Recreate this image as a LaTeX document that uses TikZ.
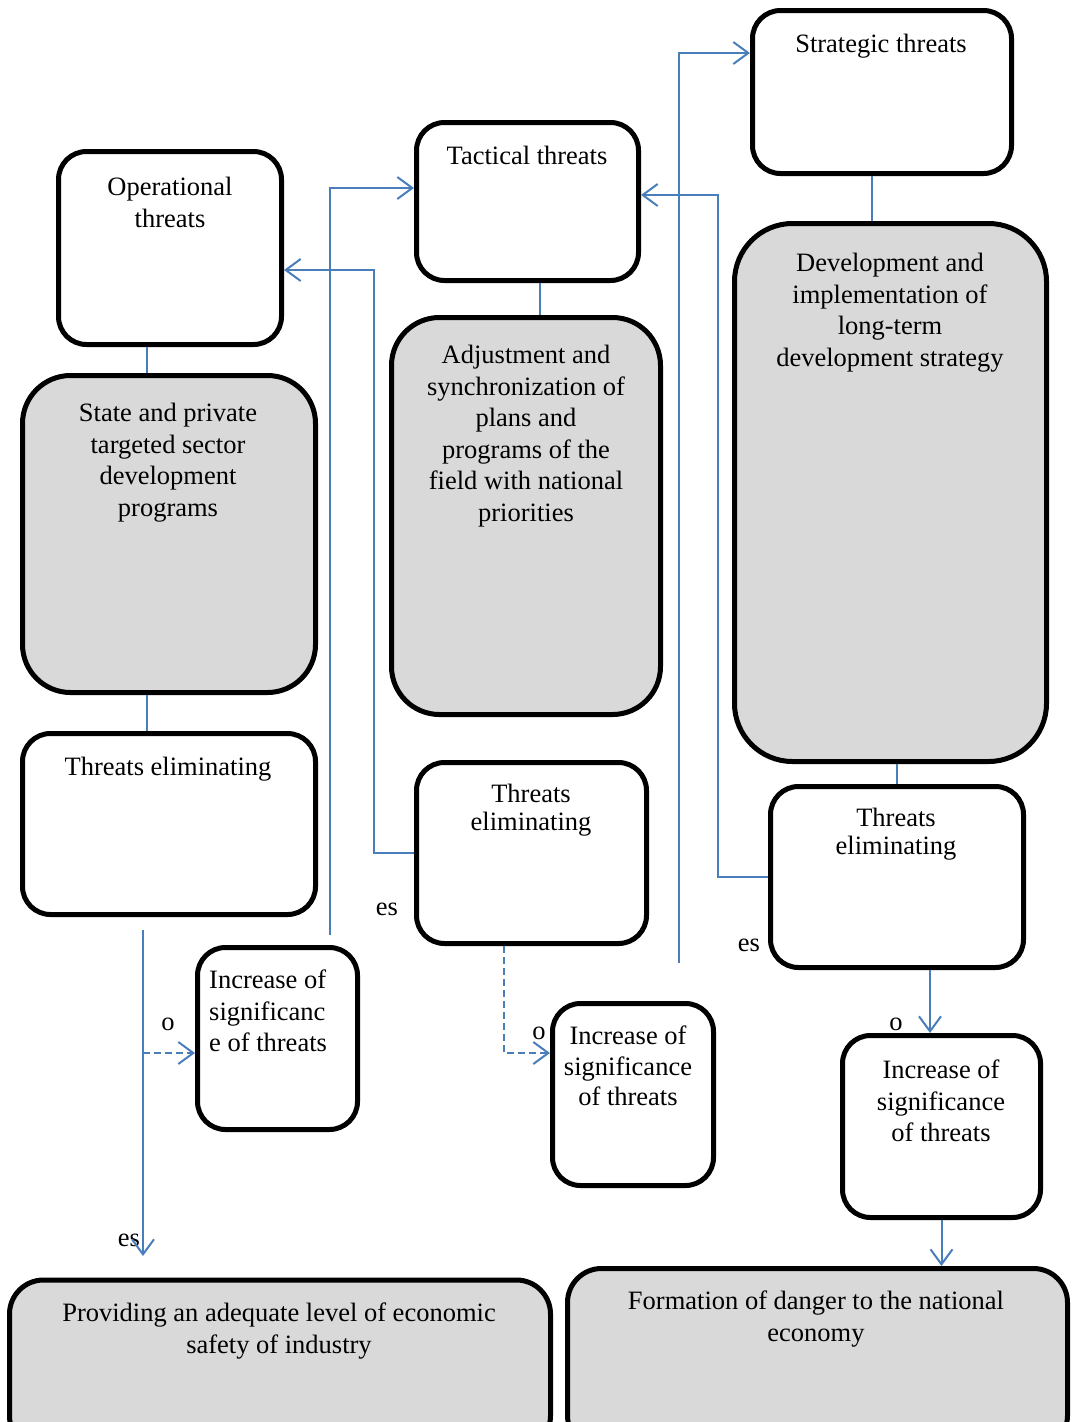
\documentclass[tikz,border=0pt]{standalone}
\usepackage{fontspec}
\setmainfont{Liberation Serif}
\usetikzlibrary{arrows.meta}
\definecolor{linkblue}{HTML}{4A7EBB}
\definecolor{boxgrey}{HTML}{D9D9D9}
\tikzset{
  box/.style={draw, line width=5pt, rounded corners=28pt, fill=white, inner sep=0pt},
  greybox/.style={box, fill=boxgrey, rounded corners=48pt},
  txt/.style={anchor=north, align=center, inner sep=0pt, font=\fontsize{26.5}{31.5}\selectfont},
  tag/.style={inner sep=0pt, font=\fontsize{26.5}{31.5}\selectfont},
  link/.style={draw=linkblue, line width=2pt},
  arrowlink/.style={link, -{Straight Barb[length=15pt,width=22pt]}},
  dashlink/.style={arrowlink, dash pattern=on 7pt off 4pt},
}
\begin{document}
\begin{tikzpicture}[x=1pt,y=-1pt]
\useasboundingbox (0,0) rectangle (1073,1422);
% top row
\node[box, minimum width=259, minimum height=163] (strat) at (882,92) {};
\node[box, minimum width=222, minimum height=158] (tact) at (527.5,201.5) {};
\node[box, minimum width=223, minimum height=193] (oper) at (170,248) {};
	\node[txt] (stratT) at (881,34) {Strategic threats};
	\node[txt] (tactT) at (527,146) {Tactical threats};
	\node[txt] (operT) at (170,177) {Operational\\threats};
% measures
\node[greybox, minimum width=293, minimum height=317] (state) at (169,534) {};
\node[greybox, minimum width=269, minimum height=397] (adj) at (526,516) {};
\node[greybox, minimum width=312, minimum height=538, rounded corners=58pt] (dev) at (890.5,492.5) {};
	\node[txt] (stateT) at (168,403) {State and private\\targeted sector\\development\\programs};
	\node[txt] (adjT) at (526,345) {Adjustment and\\synchronization of\\plans and\\programs of the\\field with national\\priorities};
	\node[txt] (devT) at (890,253) {Development and\\implementation of\\long-term\\development strategy};
% threats eliminating
\node[box, minimum width=293, minimum height=181] (elimL) at (169,824) {};
\node[box, minimum width=230, minimum height=181] (elimM) at (531.5,853) {};
\node[box, minimum width=253, minimum height=181] (elimR) at (897,877) {};
	\node[txt] (elimLT) at (168,757) {Threats eliminating};
	\node[txt, font=\fontsize{26.5}{28}\selectfont] (elimMT) at (531,784) {Threats\\eliminating};
	\node[txt, font=\fontsize{26.5}{28}\selectfont] (elimRT) at (896,808) {Threats\\eliminating};
% increase of significance
\node[box, minimum width=160, minimum height=182] (incL) at (277.5,1038.5) {};
\node[box, minimum width=161, minimum height=182] (incM) at (633,1094.5) {};
\node[box, minimum width=198, minimum height=182] (incR) at (941.5,1126.5) {};
	\node[txt, anchor=north west, align=left] (incLT) at (209,970) {Increase of\\significanc\\e of threats};
	\node[txt, font=\fontsize{26.5}{30.5}\selectfont] (incMT) at (628,1026) {Increase of\\significance\\of threats};
	\node[txt] (incRT) at (941,1060) {Increase of\\significance\\of threats};
% results
\node[greybox, minimum width=541, minimum height=170, rounded corners=34pt] (prov) at (280,1365) {};
\node[greybox, minimum width=500, minimum height=181, rounded corners=34pt] (form) at (817.5,1359) {};
	\node[txt, font=\fontsize{26.5}{32}\selectfont] (provT) at (279,1303) {Providing an adequate level of economic\\safety of industry};
	\node[txt, font=\fontsize{26.5}{32}\selectfont] (formT) at (816,1291) {Formation of danger to the national\\economy};
% stray labels
\node[tag] (esM) at (387,909) {es};
\node[tag] (esR) at (749,945) {es};
\node[tag] (esL) at (129,1240) {es};
\node[tag] (oL) at (168,1024) {o};
\node[tag] (oM) at (539,1033) {o};
\node[tag] (oR) at (896,1024) {o};
% plain links
\draw[link] ([xshift=-10pt]strat.south) -- ([xshift=-10pt]strat.south |- dev.north);
\draw[link] ([xshift=12pt]tact.south) -- ([xshift=12pt]tact.south |- adj.north);
\draw[link] ([xshift=-23pt]oper.south) -- ([xshift=-23pt]oper.south |- state.north);
\draw[link] ([xshift=-22pt]state.south) -- ([xshift=-22pt]state.south |- elimL.north);
\draw[link] (elimR.north |- dev.south) -- (elimR.north);
% feedback arrows
\coordinate (riseL) at (330,935);
\coordinate (riseM) at (679,963);
\draw[arrowlink] (elimM.west) -- ++(-40,0) |- ([yshift=-22pt]oper.east);
\draw[arrowlink] (elimR.west) -- ++(-50,0) |- ([yshift=6.5pt]tact.east);
\draw[arrowlink] (riseL) |- ([yshift=13.5pt]tact.west);
\draw[arrowlink] (riseM) |- ([yshift=39pt]strat.west);
% downward arrows
\coordinate (dropL) at (143,930);
\coordinate (dropLend) at (143,1256);
\coordinate (incLin) at ([yshift=-14.5pt]incL.west);
\draw[arrowlink] (dropL) -- (dropLend);
\draw[dashlink] (dropL |- incLin) -- (incLin);
\draw[dashlink] ([xshift=-27.5pt]elimM.south) |- ([yshift=41.5pt]incM.west);
\draw[arrowlink] ([xshift=33pt]elimR.south) -- ([xshift=33pt]elimR.south |- incR.north);
\draw[arrowlink] (incR.south) -- (incR.south |- form.north);
\end{tikzpicture}
\end{document}
